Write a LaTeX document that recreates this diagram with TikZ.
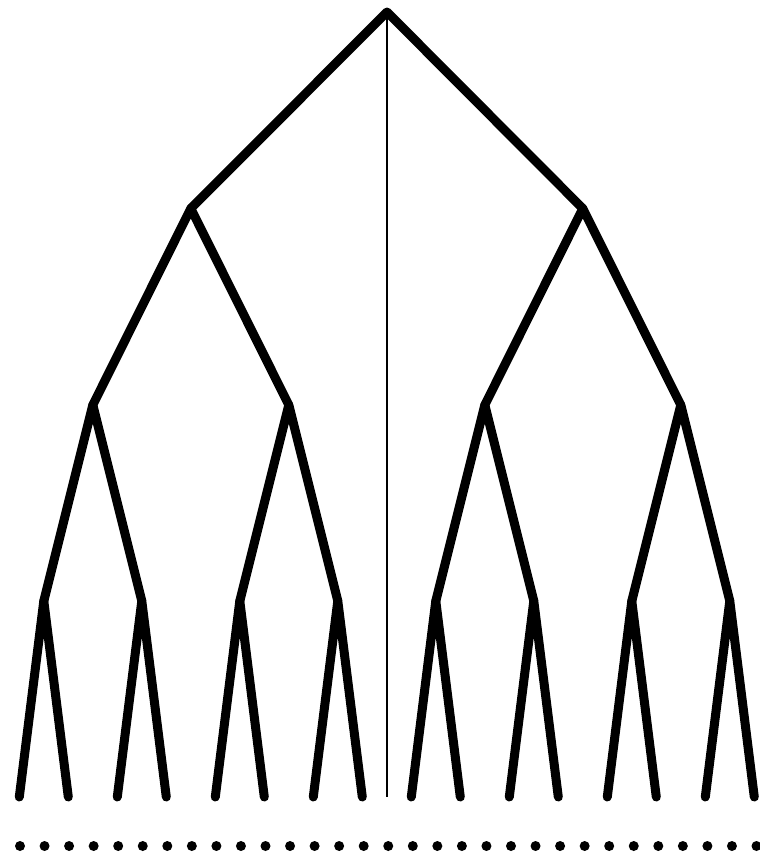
\documentclass[tikz,border=0pt]{standalone}
\begin{document}
\begin{tikzpicture}[x=1pt,y=-1pt,
  edge/.style={line width=9pt,line cap=round,line join=round,black},
  axis/.style={line width=1.8pt,black},
  dotnode/.style={circle,fill=black,inner sep=0pt,minimum size=10pt}]
\useasboundingbox (0,0) rectangle (760,857);
% level coordinates
\coordinate (r) at (387,12);
\foreach \i in {0,...,1} \coordinate (a\i) at ({190.8+392*\i},208.5);
\foreach \i in {0,...,3} \coordinate (b\i) at ({92.8+196*\i},405);
\foreach \i in {0,...,7} \coordinate (c\i) at ({43.8+98*\i},601);
\foreach \i in {0,...,15} \coordinate (l\i) at ({19.3+49*\i},797);
\coordinate (vend) at (387,797);
\draw[axis] (r) -- (vend);
% edges
\draw[edge] (a0) -- (r) -- (a1);
\foreach \i in {0,...,1}{
  \pgfmathtruncatemacro{\p}{2*\i}\pgfmathtruncatemacro{\q}{2*\i+1}
  \draw[edge] (b\p) -- (a\i) -- (b\q);}
\foreach \i in {0,...,3}{
  \pgfmathtruncatemacro{\p}{2*\i}\pgfmathtruncatemacro{\q}{2*\i+1}
  \draw[edge] (c\p) -- (b\i) -- (c\q);}
\foreach \i in {0,...,7}{
  \pgfmathtruncatemacro{\p}{2*\i}\pgfmathtruncatemacro{\q}{2*\i+1}
  \draw[edge] (l\p) -- (c\i) -- (l\q);}
% dots
\foreach \k in {0,...,30} \node[dotnode] (d\k) at ({20+24.55*\k},846) {};
\end{tikzpicture}
\end{document}
